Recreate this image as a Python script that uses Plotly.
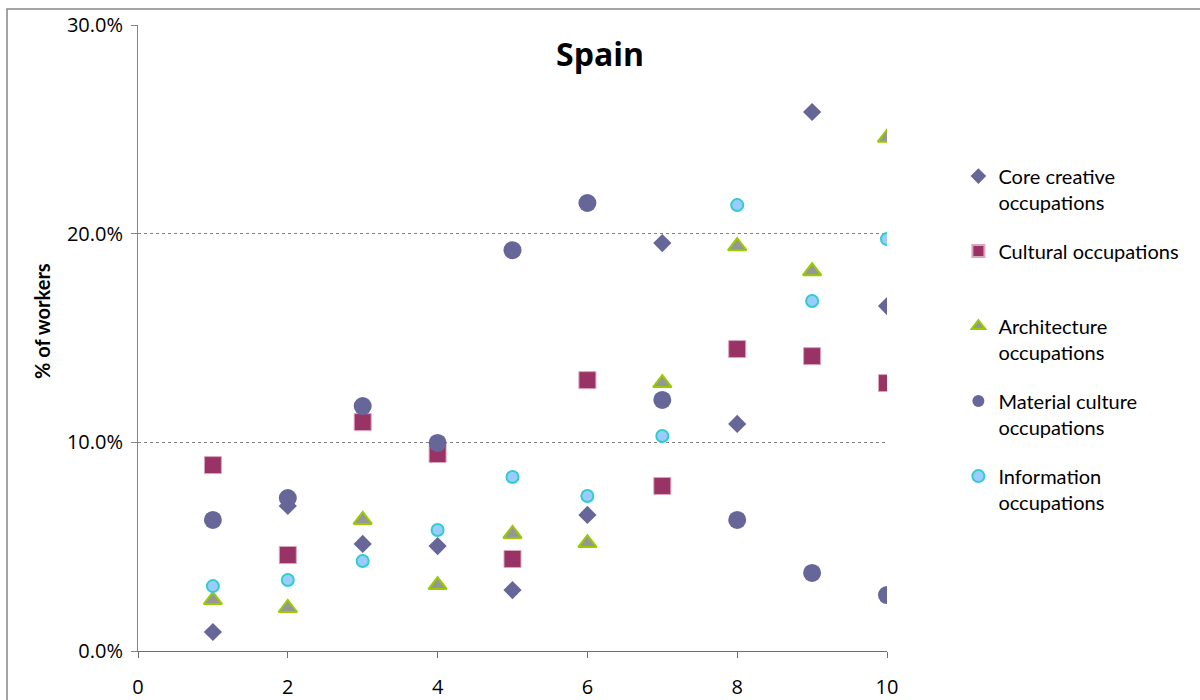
import plotly.graph_objects as go

# Decile groups on the horizontal axis
deciles = [1, 2, 3, 4, 5, 6, 7, 8, 9, 10]

# Share of workers (fraction) in each occupation group
core_creative = [0.0091, 0.0695, 0.0513, 0.0503, 0.0292, 0.0652, 0.1955, 0.1088, 0.2583, 0.1653]
cultural = [0.0891, 0.0460, 0.1097, 0.0944, 0.0441, 0.1298, 0.0791, 0.1447, 0.1413, 0.1284]
architecture = [0.0244, 0.0206, 0.0628, 0.0316, 0.0561, 0.0517, 0.1284, 0.1940, 0.1820, 0.2460]
material_culture = [0.0628, 0.0733, 0.1174, 0.0997, 0.1921, 0.2147, 0.1203, 0.0628, 0.0374, 0.0268]
information = [0.0311, 0.0340, 0.0431, 0.0580, 0.0834, 0.0743, 0.1030, 0.2137, 0.1677, 0.1974]

series = [
    ("Core creative<br>occupations", core_creative,
     dict(symbol="diamond", size=14, color="#666699", line=dict(width=0))),
    ("Cultural occupations<br> ", cultural,
     dict(symbol="square", size=17, color="#993366", line=dict(width=1, color="#d9a6bb"))),
    ("Architecture<br>occupations", architecture,
     dict(symbol="triangle-up", size=16, color="#969696", line=dict(width=2, color="#99cc00"))),
    ("Material culture<br>occupations", material_culture,
     dict(symbol="circle", size=18, color="#666699", line=dict(width=0))),
    ("Information<br>occupations", information,
     dict(symbol="circle", size=12, color="#99ccff", line=dict(width=2, color="#33cccc"))),
]

fig = go.Figure()
for name, vals, marker in series:
    fig.add_trace(go.Scatter(x=deciles, y=vals, mode="markers", name=name,
                             marker=marker, legendgroup=name))

font_family = "Lato, 'Open Sans', sans-serif"

# Plot area geometry in pixels
L, R, T, B = 138, 887, 25, 651
W, H = R - L, B - T

fig.update_layout(
    width=1200, height=700,
    paper_bgcolor="white", plot_bgcolor="white",
    margin=dict(l=L, r=1200 - R, t=T, b=700 - B),
    font=dict(family=font_family, color="black"),
    title=dict(text="<b>Spain</b>", x=0.5, xref="container", xanchor="center",
               y=1 - 55 / 700, yref="container", yanchor="middle",
               font=dict(size=32, family="'Open Sans', sans-serif", color="black")),
    showlegend=True,
    legend=dict(x=1.11 - 11 / W, xanchor="left", y=0.785 + 3 / H, yanchor="top",
                font=dict(size=20, family=font_family, color="black"),
                valign="top", tracegroupgap=20, itemsizing="constant",
                bgcolor="rgba(0,0,0,0)"),
    xaxis=dict(range=[0, 10], tickvals=[0, 2, 4, 6, 8, 10], showgrid=False,
               zeroline=False, showline=True, linecolor="#6e6e6e", linewidth=1,
               ticks="outside", ticklen=6, tickcolor="#6e6e6e", automargin=False,
               tickfont=dict(size=20, family="'Open Sans', sans-serif"), ticklabelstandoff=12),
    yaxis=dict(range=[0, 0.30], tickvals=[0, 0.1, 0.2, 0.3], tickformat=".1%",
               showgrid=True, gridcolor="#808080", griddash="dot", gridwidth=1,
               zeroline=False, showline=True, linecolor="#868686", linewidth=1,
               ticks="outside", ticklen=6, tickcolor="#868686", automargin=False,
               tickfont=dict(size=20, family="'Open Sans', sans-serif"), ticklabelstandoff=4),
)

# Vertical axis caption
fig.add_annotation(text="<b>% of workers</b>", xref="paper", yref="paper",
                   x=(42 - L) / W, y=(B - 321) / H, xanchor="center", yanchor="middle",
                   textangle=-90, showarrow=False,
                   font=dict(size=20, family=font_family, color="black"))

# Outer frame around the chart area
fig.add_shape(type="rect", xref="paper", yref="paper",
              x0=(7 - L) / W, x1=(1210 - L) / W,
              y0=(B - 720) / H, y1=(B - 9) / H,
              line=dict(color="#868686", width=1.5), fillcolor="rgba(0,0,0,0)", layer="below")

fig.write_html("out.html")
